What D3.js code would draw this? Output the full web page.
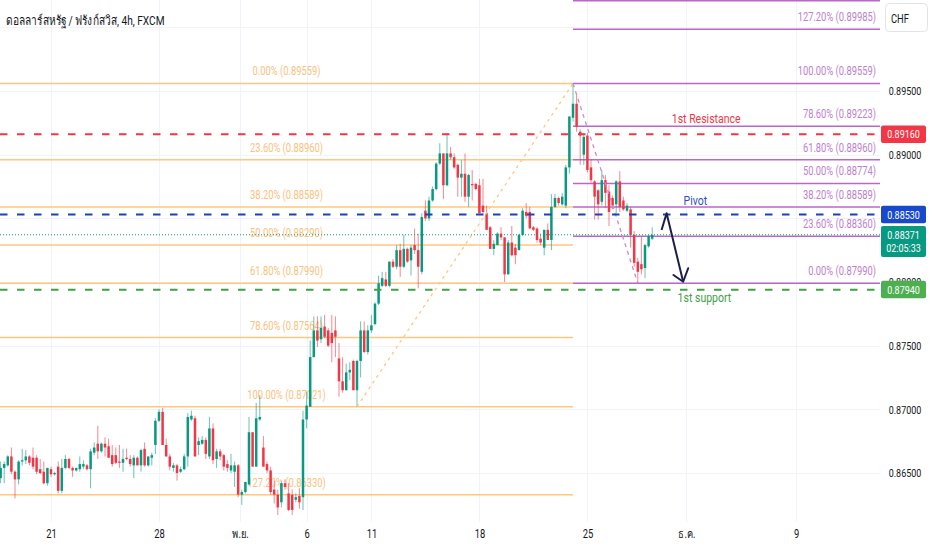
<!DOCTYPE html>
<html><head><meta charset="utf-8">
<script src="https://cdnjs.cloudflare.com/ajax/libs/d3/7.8.5/d3.min.js"></script>
<style>
html,body{margin:0;padding:0;background:#fff;}
svg{display:block;font-family:Roboto,"Noto Sans",sans-serif;}
</style></head>
<body>
<svg id="chart" width="932" height="550"></svg>
<script>
// ---------------- DATA ----------------
const title = "ดอลลาร์สหรัฐ / ฟรังก์สวิส, 4h, FXCM";
const currency = "CHF";
// 4h candles [open, high, low, close]
const candles = [
[0.8646,0.8659,0.8642,0.8654],[0.8654,0.8659,0.8642,0.8657],[0.8656,0.8664,0.8655,0.8663],[0.8663,0.8670,0.8649,0.8651],
[0.8651,0.8652,0.8630,0.8645],[0.8645,0.8660,0.8641,0.8659],[0.8659,0.8669,0.8656,0.8660],[0.8660,0.8668,0.8657,0.8663],
[0.8663,0.8664,0.8656,0.8658],[0.8662,0.8670,0.8653,0.8655],[0.8662,0.8664,0.8649,0.8651],[0.8653,0.8661,0.8649,0.8650],
[0.8651,0.8659,0.8641,0.8642],[0.8642,0.8654,0.8640,0.8654],[0.8653,0.8655,0.8647,0.8649],[0.8649,0.8651,0.8648,0.8650],
[0.8655,0.8659,0.8634,0.8636],[0.8636,0.8661,0.8634,0.8654],[0.8654,0.8664,0.8653,0.8661],[0.8661,0.8662,0.8653,0.8654],
[0.8654,0.8655,0.8647,0.8652],[0.8652,0.8654,0.8651,0.8654],[0.8653,0.8663,0.8651,0.8657],[0.8655,0.8660,0.8653,0.8657],
[0.8656,0.8657,0.8652,0.8653],[0.8653,0.8669,0.8638,0.8667],[0.8666,0.8674,0.8664,0.8670],[0.8673,0.8687,0.8661,0.8667],
[0.8667,0.8674,0.8666,0.8673],[0.8673,0.8678,0.8663,0.8670],[0.8671,0.8677,0.8662,0.8662],[0.8664,0.8672,0.8655,0.8657],
[0.8664,0.8670,0.8657,0.8658],[0.8659,0.8672,0.8654,0.8658],[0.8658,0.8669,0.8651,0.8661],[0.8662,0.8669,0.8660,0.8661],
[0.8661,0.8664,0.8655,0.8657],[0.8656,0.8664,0.8646,0.8662],[0.8662,0.8663,0.8656,0.8656],[0.8656,0.8669,0.8651,0.8668],
[0.8669,0.8674,0.8655,0.8656],[0.8656,0.8663,0.8655,0.8663],[0.8662,0.8666,0.8656,0.8664],[0.8672,0.8693,0.8665,0.8691],
[0.8691,0.8700,0.8690,0.8698],[0.8698,0.8701,0.8672,0.8672],[0.8672,0.8677,0.8663,0.8663],[0.8663,0.8665,0.8652,0.8655],
[0.8654,0.8658,0.8651,0.8656],[0.8656,0.8657,0.8644,0.8650],[0.8651,0.8655,0.8650,0.8653],[0.8653,0.8665,0.8652,0.8663],
[0.8663,0.8697,0.8655,0.8694],[0.8692,0.8699,0.8691,0.8695],[0.8693,0.8695,0.8663,0.8663],[0.8672,0.8678,0.8664,0.8675],
[0.8673,0.8679,0.8672,0.8676],[0.8676,0.8678,0.8661,0.8665],[0.8663,0.8694,0.8661,0.8685],[0.8685,0.8689,0.8657,0.8660],
[0.8661,0.8669,0.8654,0.8667],[0.8667,0.8669,0.8660,0.8663],[0.8664,0.8665,0.8652,0.8655],[0.8657,0.8660,0.8651,0.8654],
[0.8652,0.8665,0.8650,0.8656],[0.8651,0.8659,0.8639,0.8656],[0.8656,0.8657,0.8631,0.8633],[0.8633,0.8637,0.8625,0.8635],
[0.8635,0.8643,0.8634,0.8643],[0.8641,0.8694,0.8640,0.8682],[0.8682,0.8682,0.8655,0.8655],[0.8655,0.8705,0.8655,0.8693],
[0.8692,0.8711,0.8691,0.8694],[0.8670,0.8679,0.8655,0.8655],[0.8657,0.8659,0.8650,0.8652],[0.8652,0.8655,0.8633,0.8635],
[0.8637,0.8644,0.8626,0.8633],[0.8633,0.8637,0.8617,0.8623],[0.8627,0.8644,0.8623,0.8642],[0.8642,0.8645,0.8637,0.8639],
[0.8634,0.8642,0.8620,0.8621],[0.8633,0.8637,0.8617,0.8621],[0.8629,0.8634,0.8627,0.8631],[0.8632,0.8638,0.8622,0.8627],
[0.8631,0.8699,0.8621,0.8692],[0.8692,0.8714,0.8685,0.8703],[0.8702,0.8754,0.8702,0.8741],[0.8741,0.8773,0.8741,0.8762],
[0.8762,0.8773,0.8749,0.8754],[0.8755,0.8773,0.8752,0.8764],[0.8765,0.8774,0.8756,0.8757],[0.8762,0.8764,0.8749,0.8750],
[0.8760,0.8774,0.8737,0.8752],[0.8762,0.8773,0.8741,0.8757],[0.8740,0.8752,0.8710,0.8722],[0.8722,0.8741,0.8713,0.8715],
[0.8715,0.8736,0.8715,0.8729],[0.8729,0.8737,0.8723,0.8731],[0.8738,0.8739,0.8715,0.8715],[0.8715,0.8739,0.8702,0.8738],
[0.8738,0.8769,0.8725,0.8762],[0.8762,0.8769,0.8744,0.8745],[0.8745,0.8766,0.8743,0.8762],[0.8762,0.8774,0.8760,0.8766],
[0.8767,0.8784,0.8766,0.8783],[0.8783,0.8805,0.8782,0.8799],[0.8797,0.8808,0.8796,0.8803],[0.8802,0.8808,0.8796,0.8797],
[0.8797,0.8816,0.8796,0.8816],[0.8816,0.8818,0.8811,0.8812],[0.8812,0.8829,0.8810,0.8825],[0.8825,0.8830,0.8804,0.8812],
[0.8812,0.8837,0.8811,0.8826],[0.8826,0.8827,0.8815,0.8816],[0.8817,0.8829,0.8805,0.8827],[0.8829,0.8842,0.8822,0.8825],
[0.8825,0.8838,0.8795,0.8812],[0.8808,0.8854,0.8806,0.8851],[0.8856,0.8864,0.8848,0.8850],[0.8850,0.8867,0.8848,0.8864],
[0.8864,0.8875,0.8863,0.8873],[0.8873,0.8894,0.8872,0.8893],[0.8893,0.8909,0.8892,0.8901],[0.8901,0.8901,0.8865,0.8876],
[0.8876,0.8917,0.8875,0.8901],[0.8901,0.8906,0.8896,0.8898],[0.8898,0.8901,0.8889,0.8890],[0.8892,0.8893,0.8867,0.8882],
[0.8882,0.8896,0.8867,0.8885],[0.8885,0.8901,0.8863,0.8867],[0.8867,0.8885,0.8859,0.8884],[0.8877,0.8888,0.8864,0.8876],
[0.8877,0.8878,0.8872,0.8873],[0.8876,0.8881,0.8854,0.8854],[0.8860,0.8881,0.8854,0.8855],[0.8854,0.8860,0.8841,0.8841],
[0.8843,0.8844,0.8826,0.8826],[0.8826,0.8833,0.8821,0.8830],[0.8829,0.8839,0.8829,0.8838],[0.8838,0.8843,0.8833,0.8835],
[0.8835,0.8835,0.8800,0.8806],[0.8806,0.8833,0.8806,0.8831],[0.8831,0.8844,0.8820,0.8821],[0.8827,0.8830,0.8814,0.8821],
[0.8825,0.8838,0.8825,0.8837],[0.8837,0.8858,0.8836,0.8856],[0.8855,0.8862,0.8850,0.8852],[0.8855,0.8859,0.8842,0.8842],
[0.8843,0.8844,0.8840,0.8841],[0.8842,0.8843,0.8831,0.8833],[0.8834,0.8838,0.8829,0.8831],[0.8827,0.8841,0.8821,0.8841],
[0.8841,0.8846,0.8833,0.8833],[0.8833,0.8869,0.8825,0.8859],[0.8859,0.8869,0.8858,0.8866],[0.8866,0.8867,0.8860,0.8862],
[0.8861,0.8870,0.8860,0.8867],[0.8860,0.8892,0.8858,0.8890],[0.8890,0.8930,0.8885,0.8930],[0.8929,0.8956,0.8926,0.8940],
[0.8940,0.8948,0.8918,0.8922],[0.8918,0.8920,0.8892,0.8915],[0.8900,0.8917,0.8892,0.8914],[0.8915,0.8917,0.8886,0.8888],
[0.8890,0.8896,0.8878,0.8880],[0.8879,0.8880,0.8849,0.8867],[0.8872,0.8873,0.8849,0.8861],[0.8863,0.8888,0.8860,0.8880],
[0.8880,0.8884,0.8858,0.8870],[0.8871,0.8876,0.8844,0.8855],[0.8866,0.8868,0.8857,0.8860],[0.8861,0.8880,0.8854,0.8879],
[0.8879,0.8887,0.8855,0.8859],[0.8864,0.8867,0.8856,0.8857],[0.8856,0.8862,0.8855,0.8860],[0.8857,0.8859,0.8827,0.8837],
[0.8837,0.8840,0.8812,0.8815],[0.8816,0.8819,0.8799,0.8808],[0.8814,0.8836,0.8806,0.8810],[0.8811,0.8830,0.8803,0.8829],
[0.8828,0.8837,0.8827,0.8836],[0.8834,0.8843,0.8833,0.8837]
];
// time axis (bar index of each date label)
const timeTickBars   = [14, 44, 66.5, 85, 103, 133, 163, 190.5, 221];
const timeTickLabels = ["21", "28", "พ.ย.", "6", "11", "18", "25", "ธ.ค.", "9"];
// price axis: grid every 0.005, labels shown where not covered by a tag
const priceGrid   = [0.865, 0.870, 0.875, 0.880, 0.885, 0.890, 0.895, 0.900];
const priceLabels = [0.865, 0.870, 0.875, 0.880, 0.890, 0.895];
// Fibonacci retracement #1 (up move)
const fib1Ratios = ["0.00%","23.60%","38.20%","50.00%","61.80%","78.60%","100.00%","127.20%"];
const fib1Values = [0.89559,0.88960,0.88589,0.88290,0.87990,0.87564,0.87021,0.86330];
// Fibonacci retracement #2 (down move)
const fib2Ratios = ["141.40%","127.20%","100.00%","78.60%","61.80%","50.00%","38.20%","23.60%","0.00%"];
const fib2Values = [0.90209,0.89985,0.89559,0.89223,0.88960,0.88774,0.88589,0.88360,0.87990];
// swing points [bar, price]
const swingLow1 = [99, 0.87021];
const swingHigh = [159, 0.89559];
const swingLow2 = [177, 0.87990];
// horizontal levels
const levelNames  = ["1st Resistance", "Pivot", "1st support"];
const levelValues = [0.89160, 0.88530, 0.87940];
const levelLabelBars = [196, 193, 195.5];
const lastPrice = 0.88371;
const countdown = "02:05:33";
// projected path [bar, price]
const arrowPath = [[183.6, 0.88408], [185.0, 0.88540], [189.6, 0.88002]];
const arrowHeadWings = [[186.9, 0.88055], [191.0, 0.88108]];

// ---------------- DRAW ----------------
const SX = 0.78;            // glyph width compression
const PR = 880, PB = 522;   // plot right / bottom
const svg = d3.select("#chart");

const x = d3.scaleLinear().domain([0, 240]).range([0.6, 0.6 + 240 * 3.6]);
const y = d3.scaleLinear().domain([0.865, 0.895]).range([473, 91]);

const colUp = "#089981", colDn = "#F23645";
const orange = "#FFC77E", orangeTxt = "#F9C27E";
const purple = "#BA68C8", purpleTxt = "#BE7FCD";
const levelColors = ["#F23645", "#1E3FBF", "#43A047"];
const levelTextColors = ["#F23645", "#2F4FC4", "#43A047"];
const levelTextOffset = [-11, -9.5, 12];

svg.append("defs").append("clipPath").attr("id","plot")
  .append("rect").attr("x",0).attr("y",0).attr("width",PR).attr("height",PB);

const plot = svg.append("g").attr("clip-path","url(#plot)");

function text(g, px, py, s, size, color, anchor) {
  return g.append("text")
    .attr("transform", `translate(${px},${py}) scale(${SX},1)`)
    .attr("text-anchor", anchor || "start")
    .attr("font-size", size).attr("fill", color).text(s);
}

// grid
plot.append("g").selectAll("line").data(priceGrid).join("line")
  .attr("x1",0).attr("x2",PR).attr("y1",d=>Math.round(y(d))+0.5).attr("y2",d=>Math.round(y(d))+0.5)
  .attr("stroke","#F0F3FA").attr("stroke-width",1);
plot.append("g").selectAll("line").data(timeTickBars).join("line")
  .attr("x1",d=>Math.round(x(d))+0.5).attr("x2",d=>Math.round(x(d))+0.5).attr("y1",0).attr("y2",PB)
  .attr("stroke","#F0F3FA").attr("stroke-width",1);

// fib 1 (orange, left)
const f1x0 = 0, f1x1 = x(swingHigh[0]);
const fib1 = plot.append("g");
fib1.selectAll("line").data(fib1Values).join("line")
  .attr("x1",f1x0).attr("x2",f1x1).attr("y1",d=>y(d)).attr("y2",d=>y(d))
  .attr("stroke",orange).attr("stroke-width",1.5);
fib1Values.forEach((v,i)=>{
  text(fib1, (f1x0+f1x1)/2, y(v)-8, `${fib1Ratios[i]} (${v.toFixed(5)})`, 12, orangeTxt, "middle");
});

// fib 2 (purple, right)
const f2x0 = x(swingHigh[0]), f2x1 = PR;
const fib2 = plot.append("g");
fib2.selectAll("line").data(fib2Values).join("line")
  .attr("x1",f2x0).attr("x2",f2x1).attr("y1",d=>y(d)).attr("y2",d=>y(d))
  .attr("stroke",purple).attr("stroke-width",1.5);
fib2Values.forEach((v,i)=>{
  if (y(v) - 8 < 12) return;
  text(fib2, PR-4, y(v)-8, `${fib2Ratios[i]} (${v.toFixed(5)})`, 12, purpleTxt, "end");
});

// candles
const cg = plot.append("g");
const c = cg.selectAll("g").data(candles).join("g");
c.append("line")
  .attr("x1",(d,i)=>x(i)).attr("x2",(d,i)=>x(i))
  .attr("y1",d=>y(d[1])).attr("y2",d=>y(d[2]))
  .attr("stroke",d=>d[3]>=d[0]?colUp:colDn).attr("stroke-opacity",0.6).attr("stroke-width",1);
c.append("rect")
  .attr("x",(d,i)=>x(i)-1.25).attr("width",2.5)
  .attr("y",d=>y(Math.max(d[0],d[3])))
  .attr("height",d=>Math.max(1, Math.abs(y(d[0])-y(d[3]))))
  .attr("fill",d=>d[3]>=d[0]?colUp:colDn);

// trend dashed lines of the fib drawings
plot.append("line")
  .attr("x1",x(swingLow1[0])).attr("y1",y(swingLow1[1])).attr("x2",x(swingHigh[0])).attr("y2",y(swingHigh[1]))
  .attr("stroke",orange).attr("stroke-width",1.3).attr("stroke-dasharray","3,4");
plot.append("line")
  .attr("x1",x(swingHigh[0])).attr("y1",y(swingHigh[1])).attr("x2",x(swingLow2[0])).attr("y2",y(swingLow2[1]))
  .attr("stroke","#C98BD6").attr("stroke-width",1.3).attr("stroke-dasharray","4,4");

// current price dotted line
plot.append("line").attr("x1",0).attr("x2",PR).attr("y1",y(lastPrice)).attr("y2",y(lastPrice))
  .attr("stroke",colUp).attr("stroke-width",1).attr("stroke-dasharray","1,2");

// horizontal levels
levelValues.forEach((v,i)=>{
  plot.append("line").attr("x1",0).attr("x2",PR).attr("y1",y(v)).attr("y2",y(v))
    .attr("stroke",levelColors[i]).attr("stroke-width",2).attr("stroke-dasharray","7.5,9.5");
  text(plot, x(levelLabelBars[i]), y(v)+levelTextOffset[i], levelNames[i], 13.5, levelTextColors[i], "middle");
});

// projected arrow
const line = d3.line().x(d=>x(d[0])).y(d=>y(d[1]));
plot.append("path").attr("d", line(arrowPath)).attr("fill","none")
  .attr("stroke","#1B1F4A").attr("stroke-width",2).attr("stroke-linejoin","round");
const tip = arrowPath[arrowPath.length-1];
plot.append("path").attr("d", line([arrowHeadWings[0], tip, arrowHeadWings[1]])).attr("fill","none")
  .attr("stroke","#1B1F4A").attr("stroke-width",2).attr("stroke-linejoin","round").attr("stroke-linecap","round");

// title
text(svg, 6, 25, title, 13, "#131722", "start");

// price axis
const pa = svg.append("g").attr("transform","translate(905,0)")
  .call(d3.axisRight(y).tickValues(priceLabels).tickSize(0).tickPadding(0).tickFormat(d3.format(".5f")));
pa.select(".domain").remove();
pa.selectAll("text").attr("x",0).attr("text-anchor","middle").attr("transform",`scale(${SX},1)`)
  .attr("font-size",11.5).attr("fill","#131722").attr("font-family","Roboto,sans-serif");

// time axis
const ta = svg.append("g").attr("transform","translate(0,529)")
  .call(d3.axisBottom(x).tickValues(timeTickBars).tickSize(0).tickPadding(0).tickFormat((d,i)=>timeTickLabels[i]));
ta.select(".domain").remove();
ta.selectAll("text").attr("transform",`scale(${SX},1)`).attr("font-size",12).attr("fill","#131722")
  .attr("font-family","Roboto,'Noto Sans',sans-serif");

// price tags
function tag(v, bg, lines) {
  const cy = y(v);
  const h = lines.length > 1 ? 31 : 17.5;
  const top = cy - 8.8;
  svg.append("rect").attr("x",881).attr("y",top).attr("width",45).attr("height",h).attr("rx",2).attr("fill",bg);
  lines.forEach((s,k)=> text(svg, 903.5, top + 13 + k*13.5, s, 11.5, "#FFFFFF", "middle"));
}
tag(levelValues[0], "#F23645", [levelValues[0].toFixed(5)]);
tag(levelValues[1], "#1848CC", [levelValues[1].toFixed(5)]);
tag(lastPrice, "#089981", [lastPrice.toFixed(5), countdown]);
tag(levelValues[2], "#4CAF50", [levelValues[2].toFixed(5)]);

// currency box
svg.append("rect").attr("x",885.5).attr("y",3.5).attr("width",42).attr("height",28).attr("rx",4)
  .attr("fill","#fff").attr("stroke","#E0E3EB");
text(svg, 891, 23, currency, 12, "#131722", "start");
</script>
</body></html>
